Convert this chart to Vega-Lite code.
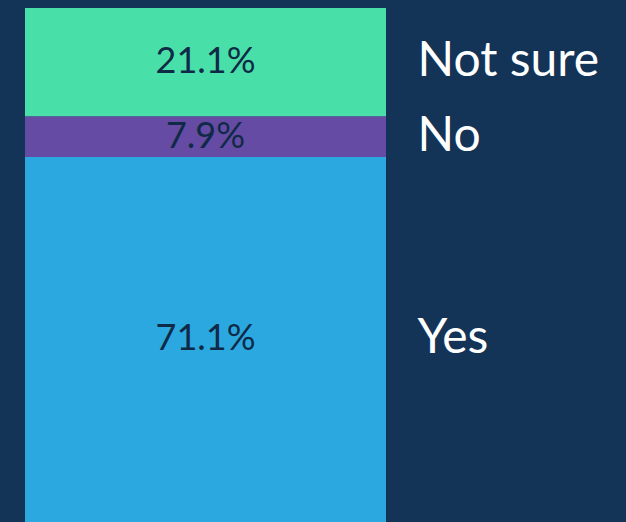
{
  "$schema": "https://vega.github.io/schema/vega-lite/v6.json",
  "width": 601,
  "height": 514,
  "padding": {"left": 25, "top": 8, "right": 0, "bottom": 0},
  "autosize": {"type": "none"},
  "background": "#133457",
  "config": {"view": {"stroke": null}, "font": "Lato"},
  "data": {"values": [
    {"q": "Q", "answer": "Yes", "pct": 0.711, "ord": 1},
    {"q": "Q", "answer": "No", "pct": 0.079, "ord": 2},
    {"q": "Q", "answer": "Not sure", "pct": 0.211, "ord": 3}
  ]},
  "transform": [
    {"stack": "pct", "groupby": ["q"], "sort": [{"field": "ord", "order": "ascending"}], "as": ["y0", "y1"]},
    {"calculate": "(datum.y0 + datum.y1) / 2", "as": "mid"}
  ],
  "encoding": {
    "x": {"field": "q", "type": "nominal", "axis": null, "scale": {"paddingInner": 0, "paddingOuter": 0.3324, "align": 0}}
  },
  "layer": [
    {
      "mark": {"type": "bar"},
      "encoding": {
        "y": {"field": "y0", "type": "quantitative", "axis": null, "scale": {"domain": [0, 1.001], "nice": false}},
        "y2": {"field": "y1"},
        "color": {"field": "answer", "type": "nominal", "legend": null,
          "scale": {"domain": ["Yes", "No", "Not sure"], "range": ["#2CA8E0", "#664BA4", "#48E0A8"]}}
      }
    },
    {
      "mark": {"type": "text", "fontSize": 36, "color": "#0F2A46", "baseline": "middle"},
      "encoding": {
        "y": {"field": "mid", "type": "quantitative"},
        "text": {"field": "pct", "type": "quantitative", "format": ".1%"}
      }
    },
    {
      "mark": {"type": "text", "fontSize": 48, "color": "#FFFFFF", "baseline": "middle", "align": "left", "dx": 212},
      "encoding": {
        "y": {"field": "mid", "type": "quantitative"},
        "text": {"field": "answer", "type": "nominal"}
      }
    }
  ]
}
